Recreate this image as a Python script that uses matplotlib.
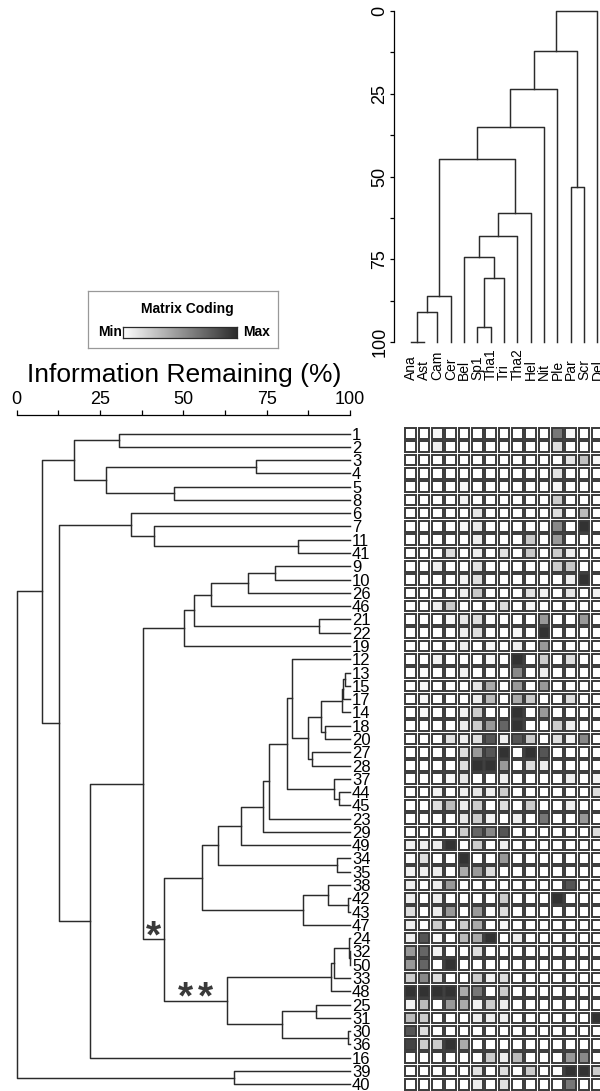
import numpy as np
import matplotlib
matplotlib.use("Agg")
import matplotlib.pyplot as plt
from matplotlib.patches import Rectangle
from matplotlib.colors import LinearSegmentedColormap
import matplotlib.transforms as mtransforms

plt.rcParams['font.family'] = ['Liberation Sans', 'DejaVu Sans']

# samples, top to bottom in tree order
row_labels = ['1', '2', '3', '4', '5', '8', '6', '7', '11', '41',
              '9', '10', '26', '46', '21', '22', '19', '12', '13', '15',
              '17', '14', '18', '20', '27', '28', '37', '44', '45', '23',
              '29', '49', '34', '35', '38', '42', '43', '47', '24', '32',
              '50', '33', '48', '25', '31', '30', '36', '16', '39', '40']

# taxa, left to right in tree order
col_labels = ['Ana', 'Ast', 'Cam', 'Cer', 'Bel', 'Sp1', 'Tha1', 'Tri',
              'Tha2', 'Hel', 'Nit', 'Ple', 'Par', 'Scr', 'Del']

# sample tree: (child, child, information remaining %)
# strings are samples, ints point back to an earlier join
row_joins = [
    ('13', '15', 98.4), (0, '17', 98.0), (1, '14', 97.5), ('18', '20', 92.5),
    (2, 3, 91.3), ('27', '28', 88.5), (4, 5, 87.5), ('12', 6, 82.7),
    ('44', '45', 96.8), ('37', 8, 95.3), (7, 9, 81.2), (10, '23', 75.8),
    (11, '29', 74.0), (12, '49', 67.3), ('34', '35', 96.2), (13, 14, 60.5),
    ('42', '43', 99.5), ('38', 16, 93.5), (17, '47', 85.8), (15, 18, 55.5),
    ('32', '50', 99.9), ('24', 20, 99.6), (21, '33', 95.2), (22, '48', 94.3),
    ('25', '31', 89.8), ('30', '36', 99.3), (24, 25, 79.5), (23, 26, 63.0),
    (19, 27, 44.3), ('9', '10', 77.5), (29, '26', 69.5), (30, '46', 58.2),
    ('21', '22', 90.8), (31, 32, 53.1), (33, '19', 50.2), (34, 28, 38.0),
    (35, '16', 22.0), ('11', '41', 84.5), ('7', 37, 41.3), ('6', 38, 34.3),
    (39, 36, 12.7), ('1', '2', 30.8), ('3', '4', 71.8), ('5', '8', 47.3),
    (42, 43, 26.7), (41, 44, 17.2), (45, 40, 7.5), ('39', '40', 65.3),
    (46, 47, 0.0),
]

# taxa tree: (child, child, height)
col_joins = [
    ('Ana', 'Ast', 100.0), (0, 'Cam', 90.8), (1, 'Cer', 86.0),
    ('Sp1', 'Tha1', 95.5), (3, 'Tri', 80.5), ('Bel', 4, 74.2),
    (5, 'Tha2', 67.8), (6, 'Hel', 61.1), (2, 7, 44.8), (8, 'Nit', 35.1),
    (9, 'Ple', 23.6), ('Par', 'Scr', 53.0), (10, 11, 12.1), (12, 'Del', 0.0),
]

major_ticks = [0, 25, 50, 75, 100]
minor_ticks = [12.5, 37.5, 62.5, 87.5]

# matrix coding per sample (rows) and taxon (columns), 0 = min, 100 = max
coding = [
    [0, 0, 4, 0, 0, 0, 0, 0, 0, 0, 0, 64, 4, 0, 0],
    [0, 0, 8, 0, 0, 0, 0, 0, 0, 0, 0, 16, 0, 0, 0],
    [0, 0, 0, 0, 0, 0, 0, 0, 0, 0, 0, 0, 12, 30, 4],
    [0, 0, 0, 0, 0, 0, 0, 0, 0, 0, 0, 14, 0, 0, 0],
    [0, 0, 0, 0, 4, 0, 0, 0, 0, 0, 0, 4, 0, 0, 0],
    [0, 0, 0, 0, 6, 0, 0, 0, 0, 0, 0, 24, 0, 0, 0],
    [0, 0, 0, 0, 0, 12, 0, 0, 0, 0, 0, 16, 0, 32, 0],
    [0, 0, 0, 0, 4, 10, 0, 0, 0, 0, 0, 56, 0, 96, 0],
    [0, 0, 0, 0, 0, 8, 0, 0, 0, 26, 0, 48, 0, 0, 0],
    [0, 0, 0, 16, 0, 8, 0, 14, 0, 26, 0, 24, 8, 0, 0],
    [0, 0, 8, 0, 0, 14, 0, 0, 0, 0, 0, 24, 26, 0, 0],
    [0, 0, 0, 0, 6, 16, 0, 0, 0, 0, 0, 0, 8, 96, 0],
    [0, 0, 0, 0, 8, 26, 0, 0, 0, 14, 6, 0, 12, 0, 6],
    [0, 0, 8, 24, 0, 0, 0, 16, 0, 4, 0, 0, 0, 0, 0],
    [0, 0, 0, 4, 12, 16, 2, 0, 0, 0, 48, 0, 0, 48, 0],
    [0, 0, 0, 0, 8, 16, 0, 0, 4, 0, 96, 0, 0, 0, 0],
    [0, 0, 0, 0, 8, 0, 4, 0, 8, 0, 48, 0, 0, 0, 0],
    [0, 0, 6, 0, 0, 0, 4, 0, 96, 0, 24, 0, 16, 0, 0],
    [0, 2, 0, 0, 6, 0, 0, 0, 56, 0, 8, 0, 0, 0, 0],
    [0, 4, 0, 0, 0, 12, 40, 0, 48, 0, 48, 0, 0, 0, 0],
    [0, 4, 0, 0, 0, 8, 32, 0, 40, 24, 0, 0, 16, 0, 0],
    [0, 4, 0, 0, 6, 24, 0, 0, 96, 0, 48, 0, 0, 0, 0],
    [0, 0, 0, 0, 8, 24, 48, 72, 96, 0, 0, 24, 8, 0, 0],
    [0, 0, 0, 14, 8, 16, 80, 8, 80, 24, 0, 16, 6, 56, 0],
    [0, 0, 0, 0, 16, 48, 80, 96, 0, 96, 80, 0, 0, 0, 0],
    [0, 0, 0, 0, 16, 96, 96, 48, 0, 16, 8, 0, 0, 0, 0],
    [0, 0, 0, 4, 12, 0, 0, 8, 0, 0, 0, 0, 8, 0, 6],
    [0, 0, 6, 0, 8, 12, 8, 24, 0, 0, 0, 0, 0, 0, 16],
    [0, 0, 16, 32, 8, 24, 0, 16, 0, 24, 0, 0, 8, 0, 0],
    [0, 0, 0, 0, 12, 24, 6, 0, 8, 0, 64, 0, 0, 48, 0],
    [0, 0, 0, 0, 24, 72, 56, 80, 0, 0, 0, 0, 0, 0, 16],
    [6, 8, 8, 96, 0, 24, 0, 8, 0, 0, 0, 0, 0, 0, 0],
    [2, 16, 0, 0, 96, 0, 0, 48, 0, 0, 0, 0, 0, 0, 0],
    [6, 8, 8, 0, 40, 48, 16, 0, 0, 0, 0, 0, 0, 0, 0],
    [8, 0, 8, 48, 0, 0, 0, 0, 0, 0, 0, 0, 80, 0, 0],
    [8, 0, 8, 0, 0, 0, 0, 24, 0, 0, 0, 96, 0, 0, 0],
    [16, 0, 8, 48, 0, 48, 2, 16, 0, 0, 0, 0, 0, 0, 0],
    [8, 0, 24, 0, 24, 40, 0, 4, 0, 0, 0, 0, 0, 0, 0],
    [8, 80, 4, 0, 32, 40, 96, 0, 8, 0, 0, 0, 0, 0, 0],
    [48, 72, 6, 0, 0, 16, 0, 0, 0, 0, 0, 0, 0, 0, 0],
    [48, 72, 0, 96, 0, 0, 0, 0, 0, 0, 0, 0, 0, 0, 0],
    [24, 56, 16, 0, 0, 24, 6, 16, 0, 0, 0, 0, 0, 0, 0],
    [96, 96, 96, 96, 40, 64, 0, 24, 0, 0, 0, 0, 0, 0, 0],
    [6, 32, 0, 48, 40, 6, 24, 8, 0, 0, 0, 0, 0, 0, 0],
    [32, 24, 0, 0, 0, 8, 8, 8, 0, 0, 0, 0, 0, 0, 96],
    [80, 16, 0, 0, 0, 0, 0, 0, 0, 0, 0, 0, 0, 0, 0],
    [88, 24, 24, 96, 40, 0, 0, 0, 0, 0, 0, 0, 0, 0, 0],
    [0, 0, 0, 0, 0, 0, 24, 8, 32, 0, 0, 0, 48, 56, 0],
    [0, 0, 0, 0, 0, 14, 0, 16, 0, 24, 0, 0, 96, 96, 24],
    [0, 0, 0, 0, 0, 8, 0, 14, 0, 0, 0, 0, 64, 0, 0],
]

# page layout, in pixels from the top left corner
W, H = 600, 1091
ROW_Y0, ROW_DY = 433.5, 13.28
COL_X0, COL_DX = 410.8, 13.33
INK = '#2b2b2b'

grey_map = LinearSegmentedColormap.from_list('coding', ['#ffffff', '#2a2a2a'])


def row_at(py):
    return (py - ROW_Y0) / ROW_DY


def col_at(px):
    return (px - COL_X0) / COL_DX


def add_px_axes(fig, left, top, right, bottom):
    return fig.add_axes([left / W, 1 - bottom / H, (right - left) / W, (bottom - top) / H])


def draw_tree(ax, leaves, joins, leaf_h, sideways):
    pos = {name: float(i) for i, name in enumerate(leaves)}
    hgt = {name: leaf_h for name in leaves}
    for k, (a, b, h) in enumerate(joins):
        hs = [hgt[a], h, h, hgt[b]]
        ps = [pos[a], pos[a], pos[b], pos[b]]
        if sideways:
            ax.plot(hs, ps, color=INK, lw=1.05, clip_on=False)
        else:
            ax.plot(ps, hs, color=INK, lw=1.05, clip_on=False)
        pos[k] = (pos[a] + pos[b]) / 2
        hgt[k] = h
    return pos, hgt


fig = plt.figure(figsize=(W / 100, H / 100), dpi=100)

# ---- sample tree on the left ----
ax_rows = add_px_axes(fig, 16.7, 415, 350, 1091)
pos, hgt = draw_tree(ax_rows, row_labels, row_joins, 100.0, sideways=True)
ax_rows.set_xlim(0, 100)
ax_rows.set_ylim(row_at(1091), row_at(415))
for side in ['right', 'bottom', 'left']:
    ax_rows.spines[side].set_visible(False)
ax_rows.spines['top'].set_linewidth(0.9)
ax_rows.xaxis.set_ticks_position('top')
ax_rows.set_xticks(major_ticks)
ax_rows.set_xticks(minor_ticks, minor=True)
ax_rows.set_xticklabels([str(t) for t in major_ticks])
ax_rows.tick_params(axis='x', which='both', direction='out', length=3.3, width=0.9,
                    labelsize=13, pad=1.5)
ax_rows.set_yticks([])
fig.text(184 / W, 1 - 375 / H, 'Information Remaining (%)', fontsize=19,
         ha='center', va='center')

label_tf = mtransforms.offset_copy(ax_rows.transData, fig=fig, x=1.5, y=0, units='points')
for i, lab in enumerate(row_labels):
    ax_rows.text(100, i, lab, transform=label_tf, fontsize=12, ha='left',
                 va='center_baseline', clip_on=False)

# marked groups: one star by the upper join, two by the lower one
ax_rows.text(hgt[28] - 3.3, pos[28] - 0.15, '*', fontsize=28, fontweight='bold',
             color='#3a3a3a', ha='center', va='center')
star_mid = (hgt[28] + hgt[27]) / 2
for dx in (-7.5, 7.5):
    star_tf = mtransforms.offset_copy(ax_rows.transData, fig=fig, x=dx, y=0, units='points')
    ax_rows.text(star_mid, pos[27] - 0.15, '*', transform=star_tf, fontsize=28,
                 fontweight='bold', color='#3a3a3a', ha='center', va='center')

# ---- taxa tree on top ----
ax_cols = add_px_axes(fig, 394, 11, 600, 342.3)
draw_tree(ax_cols, col_labels, col_joins, 100.0, sideways=False)
ax_cols.set_xlim(col_at(394), col_at(600))
ax_cols.set_ylim(100, 0)
for side in ['right', 'bottom', 'top']:
    ax_cols.spines[side].set_visible(False)
ax_cols.spines['left'].set_linewidth(0.9)
ax_cols.set_xticks([])
ax_cols.set_yticks(major_ticks)
ax_cols.set_yticks(minor_ticks, minor=True)
ax_cols.set_yticklabels([str(t) for t in major_ticks], rotation=90, va='center')
ax_cols.tick_params(axis='y', which='both', direction='out', length=3.0, width=0.9,
                    labelsize=13, pad=1.0)

for j, lab in enumerate(col_labels):
    fig.text((COL_X0 + j * COL_DX) / W, 1 - 380.5 / H, lab, rotation=90,
             fontsize=10, ha='center', va='bottom')

# ---- coded matrix ----
ax_mat = add_px_axes(fig, COL_X0 - COL_DX / 2, ROW_Y0 - ROW_DY / 2, 600,
                     ROW_Y0 + ROW_DY * (len(row_labels) - 0.5))
vals = np.array(coding) / 100.0
side = 0.8
for i in range(vals.shape[0]):
    for j in range(vals.shape[1]):
        ax_mat.add_patch(Rectangle((j - side / 2, i - side / 2), side, side,
                                   facecolor=grey_map(vals[i, j]), edgecolor='#3a3a3a',
                                   lw=1.4))
ax_mat.set_xlim(-0.5, col_at(600))
ax_mat.set_ylim(len(row_labels) - 0.5, -0.5)
ax_mat.axis('off')

# ---- coding key ----
ax_key = add_px_axes(fig, 88.3, 291, 278.3, 347.7)
ax_key.set_xticks([])
ax_key.set_yticks([])
for sp in ax_key.spines.values():
    sp.set_color('#999999')
    sp.set_linewidth(0.9)
fig.text(187.7 / W, 1 - 309.5 / H, 'Matrix Coding', fontsize=10, fontweight='bold',
         ha='center', va='center')
fig.text(121.5 / W, 1 - 332.5 / H, 'Min', fontsize=10, fontweight='bold',
         ha='right', va='center')
fig.text(243 / W, 1 - 332.5 / H, 'Max', fontsize=10, fontweight='bold',
         ha='left', va='center')

ax_bar = add_px_axes(fig, 123.3, 326.7, 237.3, 338.3)
ax_bar.imshow(np.linspace(0, 1, 256)[None, :], cmap=grey_map, aspect='auto')
ax_bar.set_xticks([])
ax_bar.set_yticks([])
for sp in ax_bar.spines.values():
    sp.set_color(INK)
    sp.set_linewidth(0.9)

fig.savefig('out.png', dpi=100)
